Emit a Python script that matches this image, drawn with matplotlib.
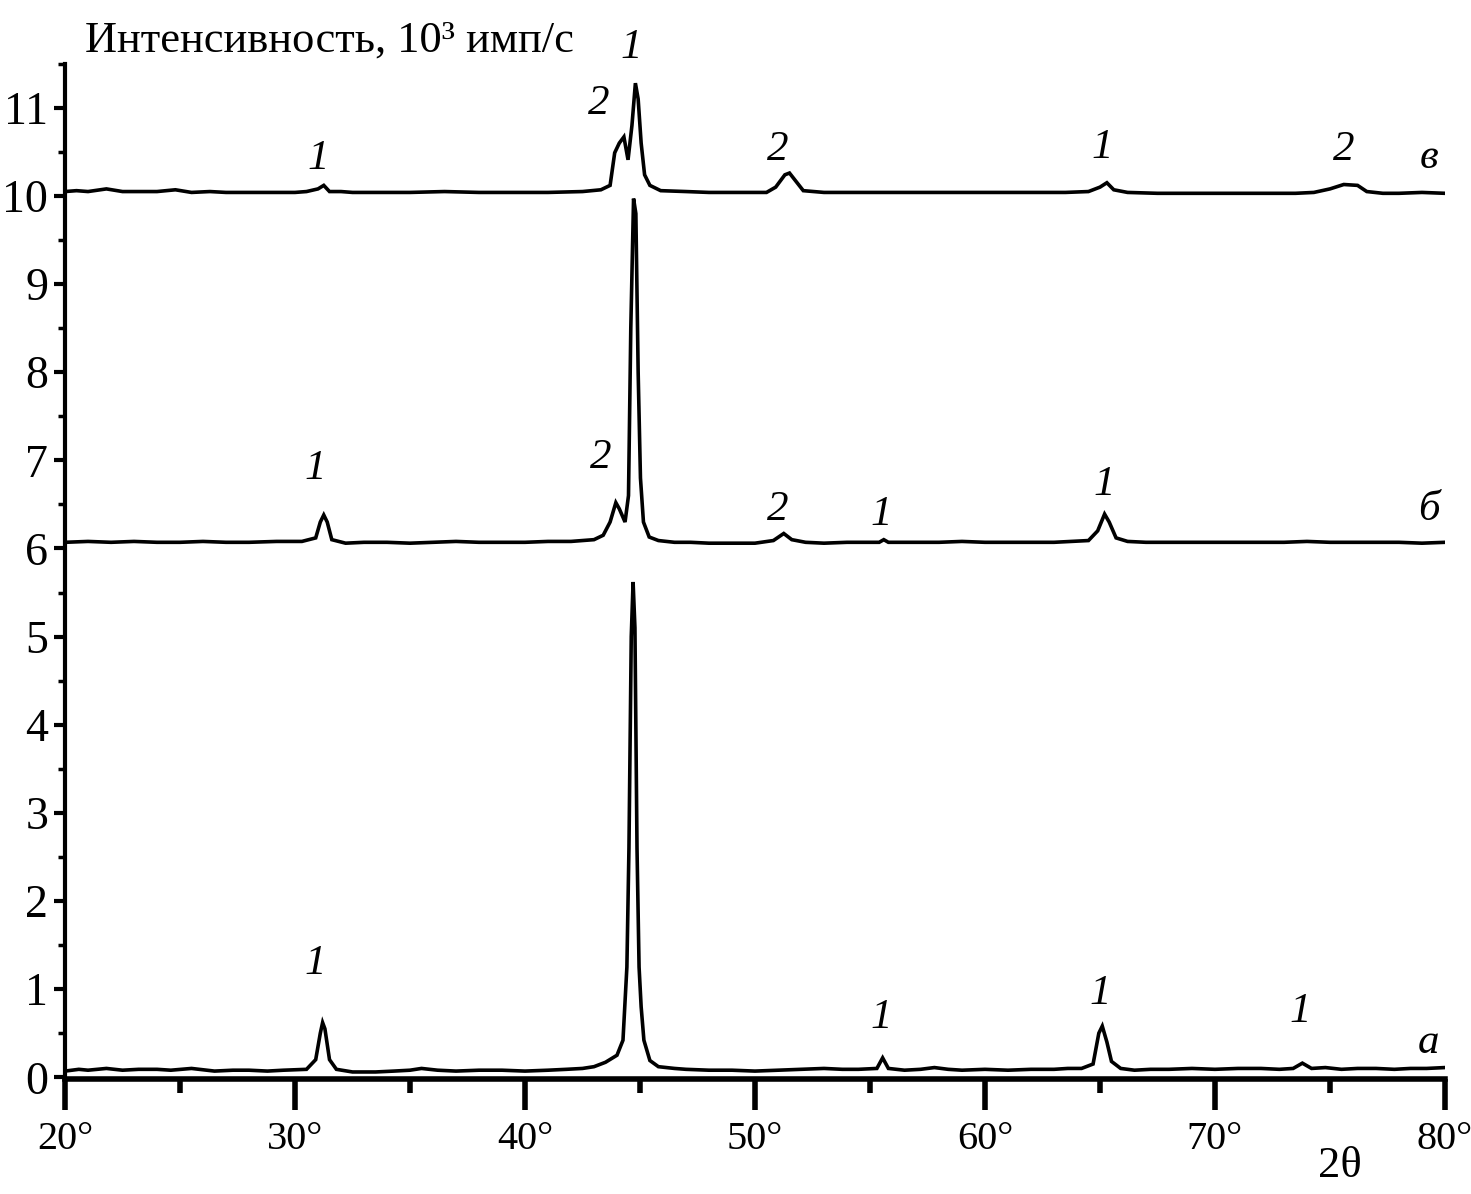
import matplotlib

matplotlib.use("Agg")

import matplotlib.pyplot as plt
import matplotlib.transforms as mtransforms
from matplotlib.ticker import MultipleLocator, FuncFormatter

plt.rcParams["font.family"] = ["Liberation Serif", "DejaVu Serif"]

# --- data (2theta in degrees, intensity in 10^3 counts/s)
a_x = [20.0, 20.6, 21.0, 21.8, 22.5, 23.2, 24.0, 24.6, 25.5, 26.5, 27.3, 28.0,
       28.8, 29.5, 30.5, 30.9, 31.1, 31.2, 31.3, 31.5, 31.8, 32.5, 33.5, 34.3,
       35.0, 35.5, 36.2, 37.0, 38.0, 39.0, 40.0, 41.0, 41.8, 42.5, 43.0, 43.5,
       44.0, 44.26, 44.43, 44.52, 44.62, 44.7, 44.78, 44.87, 44.96, 45.05, 45.17,
       45.43, 45.8, 46.5, 47.0, 48.0, 49.0, 50.0, 51.0, 52.0, 53.0, 53.8, 54.5,
       55.3, 55.55, 55.8, 56.5, 57.2, 57.8, 58.4, 59.0, 60.0, 61.0, 62.0, 63.0,
       63.6, 64.2, 64.7, 64.95, 65.1, 65.3, 65.5, 65.9, 66.5, 67.2, 68.0, 69.0,
       70.0, 71.0, 72.0, 72.8, 73.4, 73.8, 74.2, 74.8, 75.5, 76.2, 77.0, 77.8,
       78.5, 79.2, 80.0]
a_y = [0.07, 0.09, 0.08, 0.10, 0.08, 0.09, 0.09, 0.08, 0.10, 0.07, 0.08, 0.08,
       0.07, 0.08, 0.09, 0.20, 0.50, 0.62, 0.55, 0.20, 0.09, 0.06, 0.06, 0.07,
       0.08, 0.10, 0.08, 0.07, 0.08, 0.08, 0.07, 0.08, 0.09, 0.10, 0.12, 0.17,
       0.25, 0.42, 1.25, 2.60, 5.00, 5.62, 5.10, 2.60, 1.25, 0.80, 0.42,
       0.19, 0.12, 0.10, 0.09, 0.08, 0.08, 0.07, 0.08, 0.09, 0.10, 0.09, 0.09,
       0.10, 0.22, 0.10, 0.08, 0.09, 0.11, 0.09, 0.08, 0.09, 0.08, 0.09, 0.09,
       0.10, 0.10, 0.15, 0.50, 0.58, 0.40, 0.18, 0.10, 0.08, 0.09, 0.09, 0.10,
       0.09, 0.10, 0.10, 0.09, 0.10, 0.16, 0.10, 0.11, 0.09, 0.10, 0.10, 0.09,
       0.10, 0.10, 0.11]

b_x = [20.0, 21.0, 22.0, 23.0, 24.0, 25.0, 26.0, 27.0, 28.0, 29.2, 30.3, 30.9,
       31.1, 31.25, 31.4, 31.6, 32.2, 33.0, 34.0, 35.0, 36.0, 37.0, 38.0, 39.0,
       40.0, 41.0, 42.0, 43.0, 43.4, 43.7, 43.95, 44.1, 44.35, 44.5, 44.6, 44.72,
       44.82, 44.92, 45.02, 45.15, 45.4, 45.8, 46.5, 47.2, 48.0, 49.0, 50.0,
       50.8, 51.25, 51.6, 52.2, 53.0, 54.0, 55.4, 55.6, 55.8, 56.5, 57.0, 58.0,
       59.0, 60.0, 61.0, 62.0, 63.0, 64.5, 64.9, 65.2, 65.4, 65.7, 66.2, 67.0,
       68.0, 69.0, 70.0, 71.0, 72.0, 73.0, 74.0, 75.0, 76.0, 77.0, 78.0, 79.0,
       80.0]
b_y = [6.07, 6.08, 6.07, 6.08, 6.07, 6.07, 6.08, 6.07, 6.07, 6.08, 6.08, 6.12,
       6.30, 6.38, 6.30, 6.10, 6.06, 6.07, 6.07, 6.06, 6.07, 6.08, 6.07, 6.07,
       6.07, 6.08, 6.08, 6.10, 6.15, 6.30, 6.52, 6.45, 6.30, 6.60, 8.50, 9.97,
       9.80, 8.00, 6.80, 6.30, 6.13, 6.09, 6.07, 6.07, 6.06, 6.06, 6.06,
       6.09, 6.17, 6.10, 6.07, 6.06, 6.07, 6.07, 6.10, 6.07, 6.07, 6.07, 6.07,
       6.08, 6.07, 6.07, 6.07, 6.07, 6.09, 6.20, 6.39, 6.30, 6.12, 6.08, 6.07,
       6.07, 6.07, 6.07, 6.07, 6.07, 6.07, 6.08, 6.07, 6.07, 6.07, 6.07, 6.06,
       6.07]

c_x = [20.0, 20.5, 21.0, 21.8, 22.5, 23.3, 24.0, 24.8, 25.5, 26.3, 27.0, 28.0,
       29.0, 30.0, 30.5, 31.0, 31.25, 31.5, 32.0, 32.5, 33.5, 35.0, 36.5, 38.0,
       39.5, 41.0, 42.5, 43.3, 43.7, 43.9, 44.1, 44.3, 44.48, 44.65, 44.8, 44.92,
       45.05, 45.2, 45.43, 45.9, 47.0, 48.0, 49.0, 50.5, 50.9, 51.3, 51.5, 51.8,
       52.1, 53.0, 54.5, 56.0, 57.5, 59.0, 60.5, 62.0, 63.5, 64.5, 65.0, 65.3,
       65.6, 66.2, 67.5, 69.0, 70.5, 72.0, 73.5, 74.3, 75.0, 75.6, 76.2, 76.6,
       77.3, 78.0, 79.0, 80.0]
c_y = [10.05, 10.06, 10.05, 10.08, 10.05, 10.05, 10.05, 10.07, 10.04, 10.05,
       10.04, 10.04, 10.04, 10.04, 10.05, 10.08, 10.12, 10.05, 10.05, 10.04,
       10.04, 10.04, 10.05, 10.04, 10.04, 10.04, 10.05, 10.07, 10.12, 10.49,
       10.60, 10.67, 10.41, 10.80, 11.28, 11.10, 10.60, 10.24, 10.12, 10.06,
       10.05, 10.04, 10.04, 10.04, 10.10, 10.24, 10.26, 10.16, 10.06, 10.04,
       10.04, 10.04, 10.04, 10.04, 10.04, 10.04, 10.04, 10.05, 10.10, 10.15,
       10.07, 10.04, 10.03, 10.03, 10.03, 10.03, 10.03, 10.04, 10.08, 10.13,
       10.12, 10.05, 10.03, 10.03, 10.04, 10.03]

# phase labels above peaks: (x, y, text)
peak_labels = [
    (31.0, 10.42, "1"), (43.2, 11.05, "2"), (44.6, 11.68, "1"), (51.0, 10.52, "2"),
    (65.1, 10.55, "1"), (75.6, 10.52, "2"),
    (30.9, 6.91, "1"), (43.3, 7.03, "2"), (51.0, 6.44, "2"), (55.5, 6.38, "1"),
    (65.2, 6.72, "1"),
    (30.9, 1.29, "1"), (55.5, 0.68, "1"), (65.0, 0.95, "1"), (73.7, 0.74, "1"),
]
curve_labels = [(79.3, 10.43, "в"), (79.3, 6.44, "б"), (79.3, 0.39, "а")]

fig = plt.figure(figsize=(14.71, 11.94), dpi=100)
ax = fig.add_axes([0.0442, 0.0963, 0.9381, 0.8503])

for xs, ys in ((a_x, a_y), (b_x, b_y), (c_x, c_y)):
    ax.plot(xs, ys, color="black", linewidth=2.6, solid_joinstyle="miter")

for x, y, t in peak_labels:
    ax.text(x, y, t, fontsize=31, style="italic", ha="center", va="center",
            clip_on=False)
for x, y, t in curve_labels:
    ax.text(x, y, t, fontsize=31, style="italic", ha="center", va="center")

ax.set_xlim(20, 80)
ax.set_ylim(-0.02, 11.5)

ax.spines["top"].set_visible(False)
ax.spines["right"].set_visible(False)
ax.spines["left"].set_linewidth(3)
ax.spines["bottom"].set_linewidth(4)

ax.xaxis.set_major_locator(MultipleLocator(10))
ax.xaxis.set_minor_locator(MultipleLocator(5))
ax.yaxis.set_major_locator(MultipleLocator(1))
ax.yaxis.set_minor_locator(MultipleLocator(0.5))
ax.xaxis.set_major_formatter(FuncFormatter(lambda v, p: f"{v:.0f}°"))
ax.yaxis.set_major_formatter(FuncFormatter(lambda v, p: f"{v:.0f}"))

ax.tick_params(axis="x", which="major", direction="out", length=22, width=4,
               labelsize=29, pad=8)
ax.tick_params(axis="x", which="minor", direction="out", length=10, width=4)
ax.tick_params(axis="y", which="major", direction="out", length=8, width=3,
               labelsize=33, pad=4)
ax.tick_params(axis="y", which="minor", direction="out", length=5, width=2.5)

# the 80° label sits right at the figure edge, nudge it inside
fig.canvas.draw()
last = ax.get_xticklabels()[-1]
last.set_transform(last.get_transform()
                   + mtransforms.ScaledTranslation(-6 / 100, 0, fig.dpi_scale_trans))

fig.text(0.058, 1 - 52 / 1194, "Интенсивность, 10³ имп/с", fontsize=32,
         ha="left", va="baseline")
fig.text(1340 / 1471, 1 - 1166 / 1194, "2θ", fontsize=32, ha="center",
         va="center")

fig.savefig("out.png", dpi=100)
